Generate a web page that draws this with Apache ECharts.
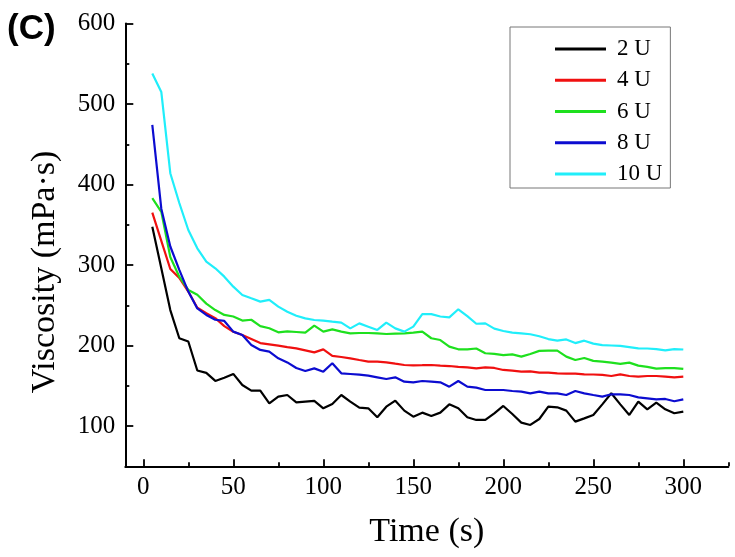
<!DOCTYPE html>
<html><head><meta charset="utf-8">
<script src="https://cdn.jsdelivr.net/npm/echarts@6/dist/echarts.min.js"></script>
<style>html,body{margin:0;padding:0;background:#fff}#c{width:735px;height:557px}</style>
</head><body><div id="c"></div>
<script>
const times = [5,10,15,20,25,30,35,40,45,50,55,60,65,70,75,80,85,90,95,100,105,110,115,120,125,130,135,140,145,150,155,160,165,170,175,180,185,190,195,200,205,210,215,220,225,230,235,240,245,250,255,260,265,270,275,280,285,290,295,300];
const v2U = [347.6,296,244,209,205,169,166,156,160,164.7,151,144,144,128.2,136.5,138.5,129.4,130.3,131.1,122,127.4,138.5,130.3,122.8,122,110.8,124,131.5,119.1,111.6,116.6,112.4,116.6,126.9,122,110.8,107.5,107.5,115.8,124.9,114.9,104.2,101.3,108.7,124,123.2,119.1,105.4,109.5,113.7,126.9,140.6,126.9,113.7,130.3,120.7,129,120.7,115.8,117.8];
const v4U = [365,330,295,284,267,247,240,234,224,217,213,208,203,201.5,199.8,198,196.5,194,191.5,195.2,187,185.7,184.1,182,180,180,179.1,177.4,175.8,175.4,175.5,175.8,175,174.5,173.5,172.9,171.7,172.9,172.1,169.6,168.8,167.5,167.9,166.3,166.3,165.4,165,165,164.2,164,163.4,162.1,164.2,162.1,161.3,162.1,162.1,161.3,160.5,161.3];
const v6U = [383,366,310,285.5,269,263,252,244,238,236,231,232,224,221.4,216.4,217.5,216.8,216,224.6,217.2,220.1,217.2,215.1,215.5,215.5,215,214.3,214.7,215.1,216,217.2,209,206.8,198.6,195.3,195.3,196.3,190.4,189.5,188,189,186.2,189.5,193.3,193.6,193.6,186.2,182,184.5,180.9,180,178.7,177.1,178.7,175,173.5,171.3,172,172,170.9];
const v8U = [474,370,323,294,267,246,238,232,230.5,217.2,213,200.7,194.5,192.4,184.1,179,172,168.3,171.6,167.5,177.9,165.4,164.6,163.8,162.5,160.5,158.4,160.5,155.1,154.3,155.9,155.1,154.3,148.9,155.9,148.9,147.6,144.7,144.7,144.7,143.5,142.7,140.6,142.7,140.6,140.6,138.5,143.5,140.6,138.5,136.5,139.4,139.4,138.5,135.6,134.4,133.1,133.6,130.7,133.1];
const v10U = [538,515,414,377,343.5,320.7,304.2,295.9,285.5,273.1,262.8,258.6,254.5,256.6,248.3,242,237,233.7,231.7,230.9,229.6,228.4,221.3,227.5,223.4,219.3,228.4,221.3,217.2,223.4,239,239,236,235,245,236.5,227,227.5,221,218,216,215,214,211.5,208,206,207.5,203,206,202.3,200.5,200,199.5,198,196.5,196.3,195.6,194,195.6,195];
const seriesNames = ['2 U','4 U','6 U','8 U','10 U'];
const seriesValues = [v2U, v4U, v6U, v8U, v10U];
const seriesColors = ['#000000','#f01010','#1ee01e','#0c0cd0','#20eefa'];
const xMajorTicks = [0,50,100,150,200,250,300];
const xMinorTicks = [25,75,125,175,225,275,325];
const yMajorTicks = [100,200,300,400,500,600];
const yMinorTicks = [150,250,350,450,550];

const serif = 'Liberation Serif';
const chart = echarts.init(document.getElementById('c'), null, {renderer:'canvas'});
const axisLineStyle = {color:'#000', width:2};
const tickStyle = {color:'#000', width:1.8};
chart.setOption({
  animation:false,
  backgroundColor:'#fff',
  grid:{left:125.3, right:6.7, top:23.5, bottom:90.75, containLabel:false},
  xAxis:[
    {type:'value', min:-10, max:325, position:'bottom',
     axisLine:{show:true, onZero:false, lineStyle:axisLineStyle},
     axisTick:{show:true, inside:true, length:7, customValues:xMajorTicks, lineStyle:tickStyle},
     axisLabel:{customValues:xMajorTicks, margin:9, fontFamily:serif, fontSize:25, color:'#000'},
     splitLine:{show:false},
     name:'Time (s)', nameLocation:'middle', nameGap:49,
     nameTextStyle:{fontFamily:serif, fontSize:34, color:'#000'}},
    {type:'value', min:-10, max:325, position:'bottom',
     axisLine:{show:false, onZero:false},
     axisTick:{show:true, inside:true, length:4, customValues:xMinorTicks, lineStyle:tickStyle},
     axisLabel:{show:false}, splitLine:{show:false}}
  ],
  yAxis:[
    {type:'value', min:50, max:600, position:'left',
     axisLine:{show:true, onZero:false, lineStyle:axisLineStyle},
     axisTick:{show:true, inside:true, length:8, customValues:yMajorTicks, lineStyle:tickStyle},
     axisLabel:{customValues:yMajorTicks, margin:10, fontFamily:serif, fontSize:25, color:'#000'},
     splitLine:{show:false}},
    {type:'value', min:50, max:600, position:'left',
     axisLine:{show:false, onZero:false},
     axisTick:{show:true, inside:true, length:4, customValues:yMinorTicks, lineStyle:tickStyle},
     axisLabel:{show:false}, splitLine:{show:false}}
  ],
  legend:{
    data:seriesNames, orient:'vertical', left:510, top:27,
    padding:[10,8,2,45], borderColor:'#777', borderWidth:1,
    itemWidth:51, itemHeight:3, icon:'rect', itemGap:7.25,
    textStyle:{fontFamily:serif, fontSize:23, lineHeight:24, color:'#000', padding:[0,0,0,6]}
  },
  graphic:[
    {type:'text', left:7, top:12, style:{text:'(C)', fill:'#000', font:'bold 35px "Liberation Sans"'}},
    {type:'text', x:45, y:272, rotation:Math.PI/2,
     style:{text:'Viscosity (mPa·s)', fill:'#000', font:'34px "Liberation Serif"', align:'center', verticalAlign:'middle'}}
  ],
  series: seriesNames.map((n,i)=>({
    name:n, type:'line', xAxisIndex:0, yAxisIndex:0,
    showSymbol:false, symbol:'none', smooth:false,
    color:seriesColors[i],
    lineStyle:{color:seriesColors[i], width:2.2},
    data: times.map((t,j)=>[t, seriesValues[i][j]])
  }))
});
</script></body></html>
